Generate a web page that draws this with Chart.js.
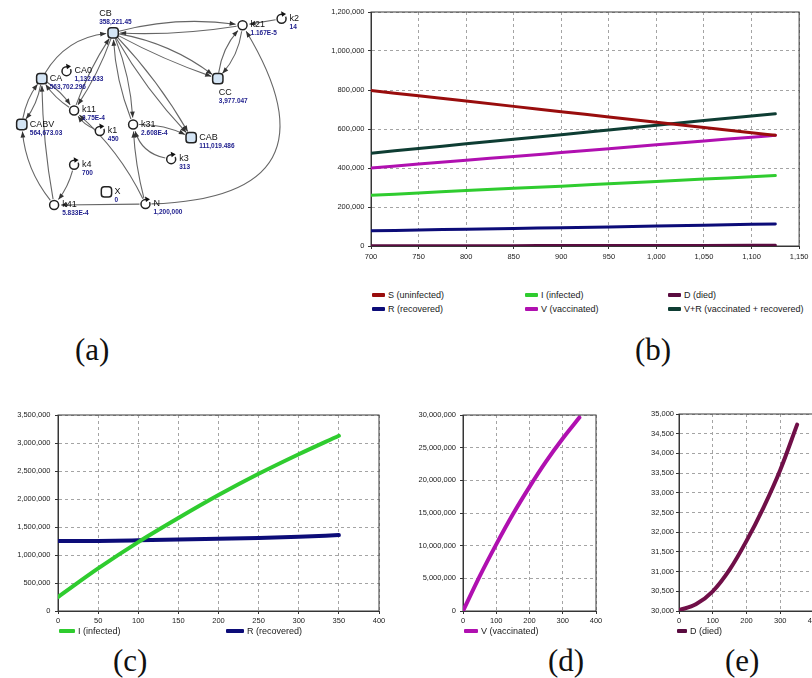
<!DOCTYPE html>
<html>
<head>
<meta charset="utf-8">
<script src="https://cdn.jsdelivr.net/npm/chart.js@4.4.0/dist/chart.umd.min.js"></script>
<style>
  body { margin: 0; width: 812px; height: 678px; overflow: hidden; background: #fff; position: relative; font-family: "Liberation Sans", Arial, sans-serif; }
  canvas { position: absolute; }
  .tag { position: absolute; font-family: "Liberation Serif", "Times New Roman", serif; font-size: 31px; line-height: 31px; color: #111; }
  .leg { position: absolute; font-size: 9px; line-height: 11px; color: #1a1a1a; white-space: nowrap; }
  .leg i { display: inline-block; height: 4px; margin-right: 3px; vertical-align: 1px; border-radius: 1px; }
</style>
</head>
<body>
<canvas id="net" width="310" height="235" style="left:0;top:0"></canvas>
<canvas id="chartB" width="502" height="264" style="left:310px;top:0"></canvas>
<canvas id="chartC" width="392" height="224" style="left:0;top:405px"></canvas>
<canvas id="chartD" width="210" height="224" style="left:395px;top:405px"></canvas>
<canvas id="chartE" width="210" height="224" style="left:615px;top:405px"></canvas>

<div class="tag" style="left:75px;top:334px">(a)</div>
<div class="tag" style="left:635px;top:334px">(b)</div>
<div class="tag" style="left:113px;top:645px">(c)</div>
<div class="tag" style="left:548px;top:645px">(d)</div>
<div class="tag" style="left:725px;top:645px">(e)</div>

<script>
// ---- (a) model diagram ----
const nodeNames  = ['CB', 'CA', 'CA0', 'k11', 'k21', 'k2', 'CC', 'CABV', 'k1', 'k31', 'CAB', 'k3', 'k4', 'X', 'k41', 'N'];
const nodeValues = ['358,221.45', '563,702.296', '1,132.633', '3.75E-4', '1.167E-5', '14', '3,977.047', '564,673.03', '450', '2.608E-4', '111,019.486', '313', '700', '0', '5.833E-4', '1,200,000'];
const nodeX = [111, 36, 62, 70, 247, 288, 221, 15, 97, 132, 193, 172, 70, 104, 49, 145];
const nodeY = [27, 76, 68, 110, 19, 12, 76, 125, 132, 125, 139, 162, 168, 197, 211, 210];
const nodeKind = ['stock', 'stock', 'param', 'rate', 'rate', 'param', 'stock', 'stock', 'param', 'rate', 'stock', 'param', 'param', 'stock', 'rate', 'param'];
// from, to, bend
const edgeList = [
  ['CA', 'CB', 0.25], ['k11', 'CB', 0.06], ['CB', 'k11', 0.06],
  ['CB', 'k21', 0.1], ['k21', 'CB', 0.05], ['CB', 'CC', 0.12], ['CB', 'CC', -0.04],
  ['CC', 'k21', 0.15], ['k21', 'CC', 0.15], ['k2', 'k21', 0],
  ['N', 'k21', -0.85], ['CB', 'CAB', 0.06], ['CB', 'CAB', -0.06],
  ['k31', 'CAB', 0.12], ['k3', 'k31', 0.3], ['CB', 'k31', 0.08], ['k31', 'CB', 0.08],
  ['N', 'k11', -0.1], ['N', 'k41', 0], ['k4', 'k41', 0.1], ['N', 'k31', 0.05],
  ['k41', 'CABV', 0.15], ['k41', 'CA', 0.04], ['CABV', 'CA', 0.12], ['CA', 'CABV', 0.12],
  ['CA', 'k11', 0.1], ['k11', 'CA', 0.1], ['k1', 'k11', 0.15]
];

// ---- (b) steady-state window ----
const tB   = [700, 750, 800, 850, 900, 950, 1000, 1050, 1100, 1125];
const sB   = [797000, 770000, 743000, 716000, 689000, 662000, 635000, 608000, 581000, 568000];
const iB   = [260000, 272000, 284000, 296000, 307000, 319000, 331000, 343000, 355000, 361000];
const dB   = [1000, 1200, 1500, 1800, 2100, 2400, 2800, 3200, 3600, 3800];
const rB   = [78000, 82000, 86000, 90000, 94000, 98000, 103000, 107000, 111000, 113000];
const vB   = [400000, 420000, 440000, 459000, 479000, 499000, 519000, 539000, 558000, 568000];
const vrB  = [476000, 500000, 524000, 548000, 571000, 595000, 619000, 643000, 667000, 678000];

// ---- (c), (d), (e) full run ----
const tRun = [0, 50, 100, 150, 200, 250, 300, 350];
const iRun = [250000, 760000, 1230000, 1660000, 2070000, 2450000, 2800000, 3130000];
const rRun = [1250000, 1252000, 1262000, 1275000, 1290000, 1305000, 1325000, 1355000];
const vRun = [0, 5300000, 10200000, 14800000, 19000000, 22900000, 26400000, 29600000];
const dRun = [30020, 30170, 30500, 31050, 31780, 32620, 33580, 34730];

const C = {
  S: '#990d0d', I: '#2fcc2f', D: '#5a0c40', R: '#0c0c78', V: '#b010b0', VR: '#0e3d33', De: '#700f48'
};
const FONT = '"Liberation Sans", Arial, sans-serif';

// network chart
const netPlugin = {
  id: 'net',
  beforeDatasetsDraw(chart) {
    const { ctx, scales: { x, y } } = chart;
    ctx.save();
    ctx.strokeStyle = '#666';
    ctx.fillStyle = '#333';
    ctx.lineWidth = 1.1;
    edgeList.forEach(([a, b, bend]) => {
      const i = nodeNames.indexOf(a), j = nodeNames.indexOf(b);
      const x1 = x.getPixelForValue(nodeX[i]), y1 = y.getPixelForValue(nodeY[i]);
      const x2 = x.getPixelForValue(nodeX[j]), y2 = y.getPixelForValue(nodeY[j]);
      const dx = x2 - x1, dy = y2 - y1;
      const cx = (x1 + x2) / 2 + bend * dy, cy = (y1 + y2) / 2 - bend * dx;
      let ux = x2 - cx, uy = y2 - cy, l = Math.hypot(ux, uy);
      ux /= l; uy /= l;
      let vx = cx - x1, vy = cy - y1;
      l = Math.hypot(vx, vy); vx /= l; vy /= l;
      const ex = x2 - ux * 7, ey = y2 - uy * 7;
      ctx.beginPath();
      ctx.moveTo(x1 + vx * 6, y1 + vy * 6);
      ctx.quadraticCurveTo(cx, cy, ex, ey);
      ctx.stroke();
      ctx.beginPath();
      ctx.moveTo(ex, ey);
      ctx.lineTo(ex - ux * 6 - uy * 2.4, ey - uy * 6 + ux * 2.4);
      ctx.lineTo(ex - ux * 6 + uy * 2.4, ey - uy * 6 - ux * 2.4);
      ctx.closePath();
      ctx.fill();
    });
    ctx.restore();
  },
  afterDatasetsDraw(chart) {
    const { ctx, scales: { x, y } } = chart;
    ctx.save();
    nodeNames.forEach((name, i) => {
      const px = x.getPixelForValue(nodeX[i]), py = y.getPixelForValue(nodeY[i]);
      if (nodeKind[i] === 'param') {
        ctx.fillStyle = '#fff';
        ctx.fillRect(px + 0.5, py - 6, 4, 4);
        ctx.fillStyle = '#111';
        ctx.beginPath();
        ctx.moveTo(px - 0.5, py - 7.5);
        ctx.lineTo(px + 4.5, py - 4.8);
        ctx.lineTo(px + 0.5, py - 2);
        ctx.closePath();
        ctx.fill();
      }
      let lx = px + 8, ly = py + 2;
      if (name === 'CB') { lx = px - 14; ly = py - 17; }
      if (name === 'CC') { lx = px + 1; ly = py + 16; }
      ctx.fillStyle = '#111';
      ctx.font = '9px ' + FONT;
      ctx.fillText(name, lx, ly);
      ctx.fillStyle = '#1c1c8c';
      ctx.font = 'bold 6.5px ' + FONT;
      ctx.fillText(nodeValues[i], lx, ly + 8);
    });
    ctx.restore();
  }
};

new Chart(document.getElementById('net'), {
  type: 'scatter',
  data: {
    datasets: [{
      data: nodeNames.map((n, i) => ({ x: nodeX[i], y: nodeY[i] })),
      pointStyle: nodeKind.map(k => k === 'stock' ? 'rectRounded' : 'circle'),
      pointRadius: nodeKind.map(k => k === 'stock' ? 6 : 4.5),
      pointBackgroundColor: nodeNames.map((n, i) => nodeKind[i] === 'stock' && n !== 'X' ? '#d4e5f5' : '#fff'),
      pointBorderColor: '#222',
      pointBorderWidth: 1.5
    }]
  },
  options: {
    responsive: false, animation: false, events: [],
    layout: { padding: 0 },
    plugins: { legend: { display: false }, tooltip: { enabled: false } },
    scales: {
      x: { type: 'linear', min: 0, max: 310, display: false },
      y: { type: 'linear', min: 0, max: 235, reverse: true, display: false }
    }
  },
  plugins: [netPlugin]
});

// line charts
const frame = {
  id: 'frame',
  beforeDatasetsDraw(chart) {
    const { ctx, chartArea: a } = chart;
    ctx.save();
    ctx.strokeStyle = '#3a3a3a';
    ctx.lineWidth = 1;
    ctx.strokeRect(a.left, a.top, a.right - a.left, a.bottom - a.top);
    ctx.restore();
  }
};

function axis(min, max, step, fit, tickPad, isY) {
  return {
    type: 'linear', min, max,
    ticks: {
      stepSize: step, autoSkip: false, maxRotation: 0, padding: tickPad, color: '#222',
      font: { size: 7.5, family: FONT },
      callback: v => v.toLocaleString('en-US')
    },
    grid: { color: '#a4a4a4', tickLength: 3, tickColor: '#333' },
    border: { color: '#333', dash: [3, 3] },
    afterFit: s => { if (isY) s.width = fit; else s.height = fit; }
  };
}

function plot(id, xs, series, o) {
  new Chart(document.getElementById(id), {
    type: 'line',
    data: {
      datasets: series.map(s => ({
        data: xs.map((t, i) => ({ x: t, y: s.values[i] })),
        borderColor: s.color,
        borderWidth: o.lw,
        borderCapStyle: 'round',
        pointRadius: 0,
        cubicInterpolationMode: 'monotone'
      }))
    },
    options: {
      responsive: false, animation: false, events: [],
      layout: { padding: { top: o.top, right: o.right, left: 0, bottom: 0 } },
      plugins: { legend: { display: false }, tooltip: { enabled: false } },
      scales: {
        x: axis(o.xMin, o.xMax, o.xStep, 18, o.xPad, false),
        y: axis(o.yMin, o.yMax, o.yStep, o.yW, o.yPad, true)
      }
    },
    plugins: [frame]
  });
}

plot('chartB', tB, [
  { values: sB, color: C.S }, { values: iB, color: C.I }, { values: dB, color: C.D },
  { values: rB, color: C.R }, { values: vB, color: C.V }, { values: vrB, color: C.VR }
], { lw: 3, top: 12, right: 11, yW: 61, yPad: 3.5, xPad: 3.5, xMin: 700, xMax: 1150, xStep: 50, yMin: 0, yMax: 1200000, yStep: 200000 });

plot('chartC', tRun, [
  { values: iRun, color: C.I }, { values: rRun, color: C.R }
], { lw: 4, top: 10, right: 13, yW: 58, yPad: 4.5, xPad: 2, xMin: 0, xMax: 400, xStep: 50, yMin: 0, yMax: 3500000, yStep: 500000 });

plot('chartD', tRun, [
  { values: vRun, color: C.V }
], { lw: 4, top: 10, right: 9, yW: 68, yPad: 4, xPad: 2, xMin: 0, xMax: 400, xStep: 100, yMin: 0, yMax: 30000000, yStep: 5000000 });

plot('chartE', tRun, [
  { values: dRun, color: C.De }
], { lw: 4, top: 9, right: 11, yW: 64, yPad: 2, xPad: 2, xMin: 0, xMax: 400, xStep: 100, yMin: 30000, yMax: 35000, yStep: 500 });

// legends
function legend(x, yc, label, color, sw) {
  const d = document.createElement('div');
  d.className = 'leg';
  d.style.left = x + 'px';
  d.style.top = (yc - 5.5) + 'px';
  d.innerHTML = '<i style="width:' + sw + 'px;background:' + color + '"></i>' + label;
  document.body.appendChild(d);
}
legend(372, 295, 'S (uninfected)', C.S, 13);
legend(525, 295, 'I (infected)', C.I, 13);
legend(668, 295, 'D (died)', C.D, 13);
legend(372, 309, 'R (recovered)', C.R, 13);
legend(525, 309, 'V (vaccinated)', C.V, 13);
legend(668, 309, 'V+R (vaccinated + recovered)', C.VR, 13);
legend(59, 631, 'I (infected)', C.I, 16);
legend(226, 631, 'R (recovered)', C.R, 18);
legend(464, 631, 'V (vaccinated)', C.V, 14);
legend(677, 631, 'D (died)', C.D, 10);
</script>
</body>
</html>
